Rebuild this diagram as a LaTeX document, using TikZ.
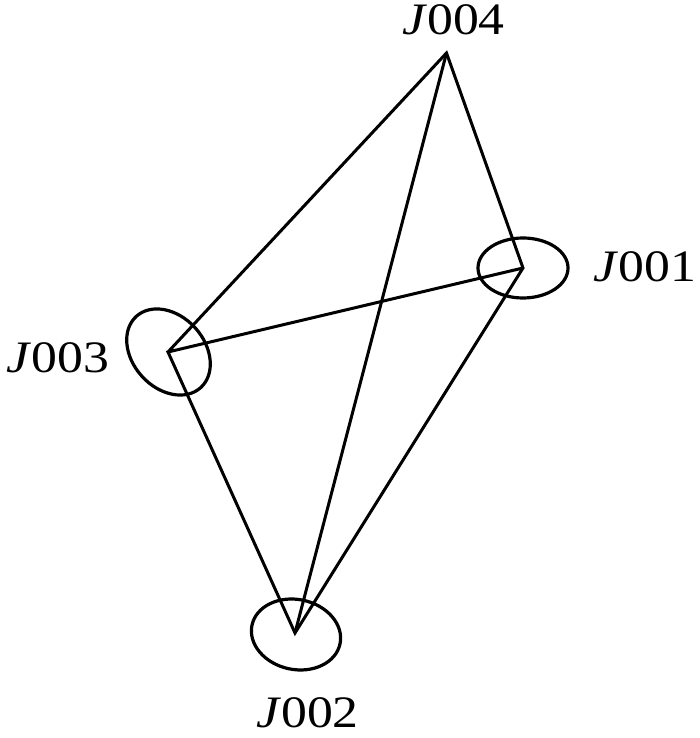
\documentclass[tikz,border=0pt]{standalone}
\usepackage{fontspec}
\setmainfont{Liberation Serif}
\usepackage{graphicx}
\begin{document}
\begin{tikzpicture}[x=1pt,y=1pt,
  edge/.style={line width=3pt,line join=miter,miter limit=20},
  ring/.style={line width=3.2pt},
  lbl/.style={anchor=base,inner sep=0pt,font=\fontsize{45}{45}\selectfont}]
\useasboundingbox (0,0) rectangle (700,738);
\coordinate (v4) at (446.5,685);
\coordinate (v1) at (523,470);
\coordinate (v3) at (168,386);
\coordinate (v2) at (295,105);
% rings
\draw[ring] (523,470) ellipse [x radius=45, y radius=30];
\draw[ring,rotate around={-48:(168.5,386)}] (168.5,386) ellipse [x radius=48, y radius=36];
\draw[ring,rotate around={-12:(296,103.5)}] (296,103.5) ellipse [x radius=45, y radius=35];
% edges
\draw[edge] (v3) -- (v4) -- (v1) -- (v2) -- (v3) -- (v1);
\draw[edge] (v4) -- (v2);
% labels
\node[lbl] (l4) at (453.5,703) {\scalebox{1.15}[1]{\textit{J}004}};
\node[lbl] (l1) at (645,456) {\scalebox{1.15}[1]{\textit{J}001}};
\node[lbl] (l3) at (58,365) {\scalebox{1.15}[1]{\textit{J}003}};
\node[lbl] (l2) at (307.5,10) {\scalebox{1.15}[1]{\textit{J}002}};
\end{tikzpicture}
\end{document}
